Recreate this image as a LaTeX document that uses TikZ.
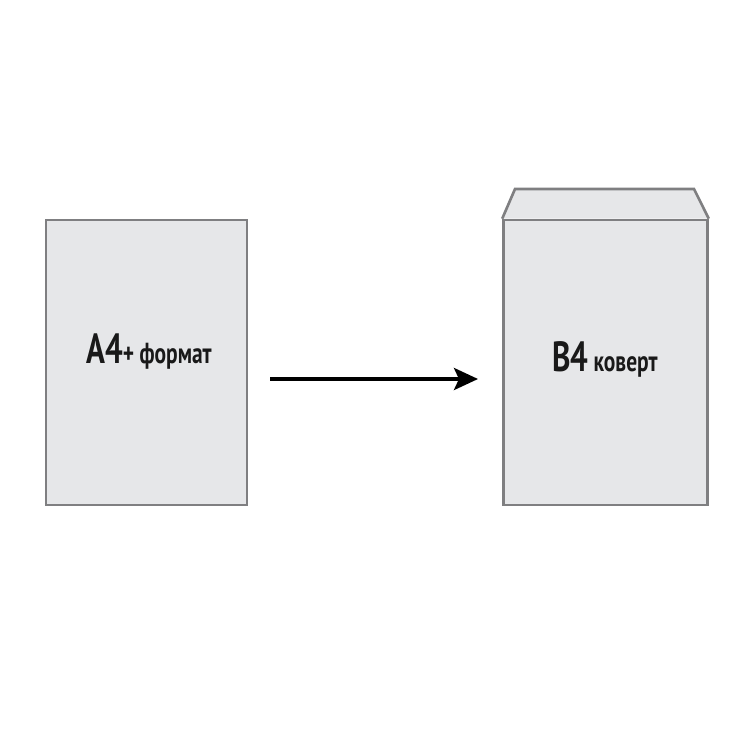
\documentclass[tikz,border=0pt]{standalone}
\usepackage{fontspec}
\setmainfont{PT Sans}
\usepackage{tikz}
\usetikzlibrary{arrows.meta}
\definecolor{paperfill}{HTML}{E6E7E9}
\definecolor{paperline}{HTML}{7F7F81}
\tikzset{
paper/.style={shape=rectangle, draw=paperline, fill=paperfill, line width=1.5pt, inner sep=0pt},
bigtext/.style={anchor=base west, inner sep=0pt, text=black!90}}
\newcommand{\bigsz}{\fontsize{24}{26}\selectfont}
\newcommand{\smallsz}{\fontsize{16.5}{18}\selectfont}

\begin{document}
\begin{tikzpicture}[x=0.02cm, y=-0.02cm]
    \useasboundingbox (0,0) rectangle (750,750);

                \node[paper, minimum width=4.02cm, minimum height=5.7cm] (sheet) at (146.5,362.5) {};
                \node[paper, minimum width=4.08cm, minimum height=5.7cm] (env) at (605.5,362.5) {};
                \draw[paper, line join=miter] (env.north west) -- (515,189) -- (694,189) -- (env.north east);

                \node[bigtext] (sheetlabel) at (86,363) {\scalebox{0.74}[1]{\bfseries\bigsz A4\smallsz+ формат}};
                \node[bigtext] (envlabel) at (552,371) {\scalebox{0.74}[1]{\bfseries\bigsz B4\,\smallsz коверт}};

                \coordinate (from) at (270,379);
                \coordinate (to) at (478,379);
                \draw[line width=2.2pt, -{Stealth[length=0.48cm, width=0.44cm, inset=0.1cm]}] (from) -- (to);

            \end{tikzpicture}
\end{document}
